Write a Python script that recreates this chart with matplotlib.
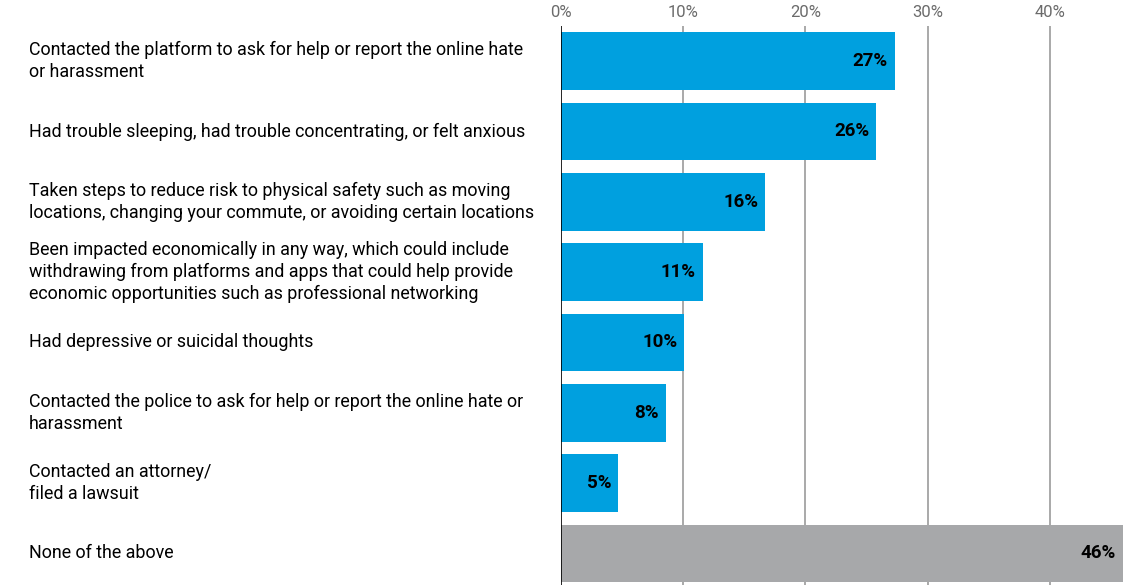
import matplotlib
matplotlib.use("Agg")
import matplotlib.pyplot as plt

plt.rcParams['font.family'] = ['Roboto', 'DejaVu Sans']

# Data
labels = [
    "Contacted the platform to ask for help or report the online hate\nor harassment",
    "Had trouble sleeping, had trouble concentrating, or felt anxious",
    "Taken steps to reduce risk to physical safety such as moving\nlocations, changing your commute, or avoiding certain locations",
    "Been impacted economically in any way, which could include\nwithdrawing from platforms and apps that could help provide\neconomic opportunities such as professional networking",
    "Had depressive or suicidal thoughts",
    "Contacted the police to ask for help or report the online hate or\nharassment",
    "Contacted an attorney/\nfiled a lawsuit",
    "None of the above",
]
values = [27.3, 25.8, 16.7, 11.6, 10.1, 8.6, 4.7, 46.0]
value_labels = ["27%", "26%", "16%", "11%", "10%", "8%", "5%", "46%"]
ticks = [0, 10, 20, 30, 40]
tick_labels = ["0%", "10%", "20%", "30%", "40%"]

BLUE = "#00a0df"
GRAY = "#a7a8aa"
colors = [BLUE] * 7 + [GRAY]

fig = plt.figure(figsize=(11.31, 5.85), dpi=100)
ax = fig.add_axes([561 / 1131, 0, (1123 - 561) / 1131, (585 - 26) / 585])

ypos = list(range(len(values)))
ax.barh(ypos, values, height=0.82, color=colors, zorder=2)
ax.set_ylim(7.45, -0.5)
ax.set_xlim(0, 46)

# grid
for t in ticks[1:]:
    ax.axvline(t, color="#a9a9a9", lw=1.4, zorder=1)
ax.axvline(0, color="black", lw=1.2, zorder=3)

ax.xaxis.tick_top()
ax.set_xticks(ticks)
ax.set_xticklabels(tick_labels, fontsize=12, color="#6b6b6b")
ax.tick_params(axis="x", length=0, pad=4)
ax.set_yticks([])
for s in ax.spines.values():
    s.set_visible(False)

# value labels
for y, v, lab in zip(ypos, values, value_labels):
    ax.annotate(lab, (v, y), xytext=(-7, 0), textcoords="offset pixels",
                ha="right", va="center", fontsize=13.5, fontweight="bold",
                color="black", zorder=4)

# category labels
for y, lab in zip(ypos, labels):
    ax.annotate(lab, (0, y), xycoords=("figure fraction", "data"),
                xytext=(29, 0), textcoords="offset pixels",
                ha="left", va="center", fontsize=12.9, color="black",
                linespacing=1.29, annotation_clip=False)

fig.savefig("out.png", dpi=100)
